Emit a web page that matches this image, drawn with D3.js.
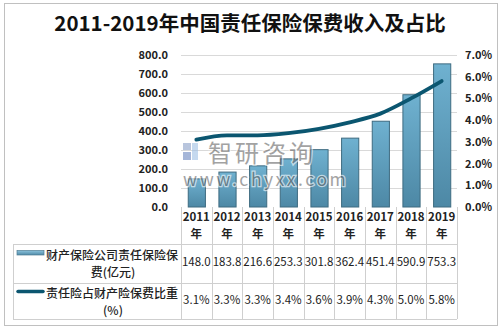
<!DOCTYPE html>
<html><head><meta charset="utf-8">
<script src="https://cdn.jsdelivr.net/npm/d3@7"></script>
<style>
html,body{margin:0;padding:0;background:#fff;}
svg text{font-family:"Noto Sans CJK SC","Liberation Sans",sans-serif;}
</style></head>
<body>
<svg id="c" width="504" height="330"></svg>
<script>
const title = "2011-2019年中国责任保险保费收入及占比";
const years = ["2011","2012","2013","2014","2015","2016","2017","2018","2019"];
const premium = [148.0,183.8,216.6,253.3,301.8,362.4,451.4,590.9,753.3];
const share = [3.1,3.3,3.3,3.4,3.6,3.9,4.3,5.0,5.8];
const leftTicks = [0,100,200,300,400,500,600,700,800];
const rightTicks = [0,1,2,3,4,5,6,7];
const seriesNames = [["财产保险公司责任保险保","费(亿元)"],["责任险占财产险保费比重","(%)"]];

const svg = d3.select("#c");
const plotL = 181, plotR = 457, plotT = 55, plotB = 207;
const tableL = 13, r1 = 244, r2 = 283, r3 = 319;

svg.append("rect").attr("x",4.5).attr("y",3.5).attr("width",493).attr("height",322)
  .attr("fill","#fff").attr("stroke","#c0c0c0");

svg.append("text").attr("x",250).attr("y",31).attr("text-anchor","middle")
  .attr("font-size",20.5).attr("font-weight","bold").attr("fill","#111").text(title);

const x = d3.scaleBand().domain(years).range([plotL,plotR]).paddingInner(0.44).paddingOuter(0.22);
const xc = d3.scaleBand().domain(years).range([plotL,plotR]);
const yL = d3.scaleLinear().domain([0,800]).range([plotB,plotT]);
const yR = d3.scaleLinear().domain([0,7]).range([plotB,plotT]);

const defs = svg.append("defs");
const g1 = defs.append("linearGradient").attr("id","bg").attr("x1",0).attr("y1",0).attr("x2",0).attr("y2",1);
g1.append("stop").attr("offset","0%").attr("stop-color","#6fb1d0");
g1.append("stop").attr("offset","100%").attr("stop-color","#4d88a5");
const g2 = defs.append("linearGradient").attr("id","lg").attr("x1",0).attr("y1",0).attr("x2",0).attr("y2",1);
g2.append("stop").attr("offset","0%").attr("stop-color","#8cc3dc");
g2.append("stop").attr("offset","100%").attr("stop-color","#4f8aa8");

// gridlines
svg.append("g").selectAll("line").data(leftTicks.slice(1)).join("line")
  .attr("x1",plotL).attr("x2",plotR).attr("y1",d=>Math.round(yL(d))+0.5).attr("y2",d=>Math.round(yL(d))+0.5)
  .attr("stroke","#d9d9d9");

// left axis
const axL = d3.axisLeft(yL).tickValues(leftTicks).tickFormat(d3.format(".1f")).tickSize(0).tickPadding(13);
const gL = svg.append("g").attr("transform",`translate(${plotL},0)`).call(axL);
gL.select(".domain").remove();
gL.selectAll("text").attr("font-size",11).attr("font-weight","bold").attr("fill","#222")
  .attr("font-family","Liberation Sans, Arial, sans-serif");

const axR = d3.axisRight(yR).tickValues(rightTicks).tickFormat(d=>d3.format(".1f")(d)+"%").tickSize(0).tickPadding(8);
const gR = svg.append("g").attr("transform",`translate(${plotR},0)`).call(axR);
gR.select(".domain").remove();
gR.selectAll("text").attr("font-size",11).attr("font-weight","bold").attr("fill","#222")
  .attr("font-family","Liberation Sans, Arial, sans-serif");

// bars
svg.append("g").selectAll("rect").data(premium).join("rect")
  .attr("x",(d,i)=>x(years[i])+0.5).attr("width",x.bandwidth())
  .attr("y",d=>yL(d)).attr("height",d=>plotB-yL(d))
  .attr("fill","url(#bg)").attr("stroke","#3e6b80").attr("stroke-width",1);

// line
const line = d3.line().x((d,i)=>xc(years[i])+xc.bandwidth()/2).y(d=>yR(d)).curve(d3.curveMonotoneX);
svg.append("path").datum(share).attr("d",line).attr("fill","none")
  .attr("stroke","#0b5670").attr("stroke-width",3.8).attr("stroke-linecap","round");

// watermark (overlays the plot)
const wm = svg.append("g").attr("opacity",0.6);
wm.append("rect").attr("x",183).attr("y",143).attr("width",8).attr("height",7).attr("fill","#8aa0c8");
wm.append("rect").attr("x",183).attr("y",152).attr("width",8).attr("height",8).attr("fill","#6a86bf");
wm.append("rect").attr("x",192).attr("y",143).attr("width",6).attr("height",17).attr("fill","#9fc1e6");
wm.append("text").attr("x",208).attr("y",162).attr("font-size",24).attr("fill","#666")
  .attr("stroke","#fff").attr("stroke-width",2.5).attr("paint-order","stroke").attr("letter-spacing",3).text("智研咨询");
wm.append("text").attr("x",183).attr("y",186).attr("font-size",17.5).attr("fill","#666")
  .attr("font-family","DejaVu Sans, sans-serif")
  .attr("stroke","#fff").attr("stroke-width",2.5).attr("paint-order","stroke").attr("letter-spacing",2.6).text("www.chyxx.com");

// table grid
const tg = svg.append("g").attr("stroke","#cfcfcf").attr("shape-rendering","crispEdges");
[r1,r2,r3].forEach(yv=>tg.append("line").attr("x1",tableL).attr("x2",plotR).attr("y1",yv+0.5).attr("y2",yv+0.5));
tg.append("line").attr("x1",tableL+0.5).attr("x2",tableL+0.5).attr("y1",r1).attr("y2",r3);
const colEdges = years.map(y=>xc(y)).concat([plotR]);
colEdges.forEach(xv=>tg.append("line").attr("x1",Math.round(xv)+0.5).attr("x2",Math.round(xv)+0.5).attr("y1",plotB).attr("y2",r3));

// header
const hdr = svg.append("g").attr("font-size",11.5).attr("font-weight","bold").attr("fill","#222").attr("text-anchor","middle");
years.forEach(y=>{
  const cx = xc(y)+xc.bandwidth()/2;
  hdr.append("text").attr("x",cx).attr("y",221).attr("font-family","Liberation Sans, Arial, sans-serif").text(y);
  hdr.append("text").attr("x",cx).attr("y",238).text("年");
});
// values
const vals = svg.append("g").attr("font-size",11.5).attr("fill","#222").attr("text-anchor","middle")
  .attr("font-family","Liberation Sans, Arial, sans-serif");
premium.forEach((v,i)=>vals.append("text").attr("x",xc(years[i])+xc.bandwidth()/2).attr("y",266).text(v.toFixed(1)));
share.forEach((v,i)=>vals.append("text").attr("x",xc(years[i])+xc.bandwidth()/2).attr("y",304).text(v.toFixed(1)+"%"));

// legend cells
svg.append("rect").attr("x",17).attr("y",250.5).attr("width",27).attr("height",4.5)
  .attr("fill","url(#lg)").attr("stroke","#4f7d93").attr("stroke-width",0.7);
svg.append("line").attr("x1",18).attr("x2",43).attr("y1",291.5).attr("y2",291.5)
  .attr("stroke","#0b5670").attr("stroke-width",3.5).attr("stroke-linecap","round");
const lg = svg.append("g").attr("font-size",12).attr("fill","#222").attr("font-weight","500");
lg.append("text").attr("x",46).attr("y",259.5).text(seriesNames[0][0]);
lg.append("text").attr("x",113).attr("y",277).attr("text-anchor","middle").text(seriesNames[0][1]);
lg.append("text").attr("x",46).attr("y",297.5).text(seriesNames[1][0]);
lg.append("text").attr("x",113).attr("y",315).attr("text-anchor","middle").text(seriesNames[1][1]);
</script>
</body></html>
